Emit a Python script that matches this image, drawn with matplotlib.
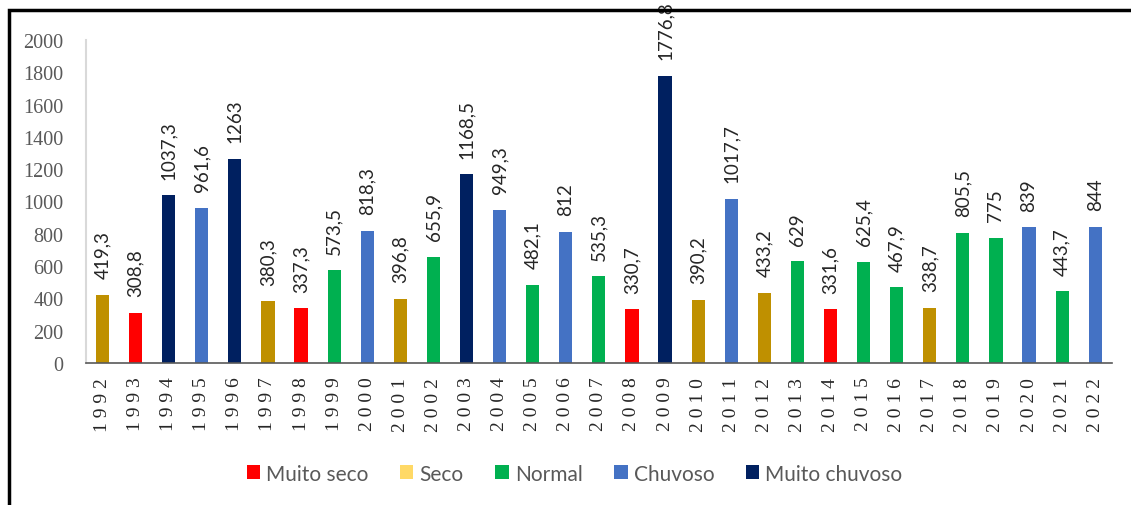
import matplotlib.pyplot as plt
from matplotlib.patches import Patch, Rectangle

# dados
anos = list(range(1992, 2023))
precip = [419.3, 308.8, 1037.3, 961.6, 1263, 380.3, 337.3, 573.5, 818.3, 396.8,
          655.9, 1168.5, 949.3, 482.1, 812, 535.3, 330.7, 1776.8, 390.2, 1017.7,
          433.2, 629, 331.6, 625.4, 467.9, 338.7, 805.5, 775, 839, 443.7, 844]
classe = ['Seco', 'Muito seco', 'Muito chuvoso', 'Chuvoso', 'Muito chuvoso', 'Seco',
          'Muito seco', 'Normal', 'Chuvoso', 'Seco', 'Normal', 'Muito chuvoso',
          'Chuvoso', 'Normal', 'Chuvoso', 'Normal', 'Muito seco', 'Muito chuvoso',
          'Seco', 'Chuvoso', 'Seco', 'Normal', 'Muito seco', 'Normal', 'Normal',
          'Seco', 'Normal', 'Normal', 'Chuvoso', 'Normal', 'Chuvoso']
categorias = ['Muito seco', 'Seco', 'Normal', 'Chuvoso', 'Muito chuvoso']

cores_barra = {'Muito seco': '#FF0000', 'Seco': '#BF9000', 'Normal': '#00B050',
               'Chuvoso': '#4472C4', 'Muito chuvoso': '#002060'}
cores_legenda = dict(cores_barra, Seco='#FFD966')


def rotulo(v):
    if float(v).is_integer():
        return str(int(v))
    return str(v).replace('.', ',')


fig = plt.figure(figsize=(11.31, 5.06), dpi=100)
ax = fig.add_axes([0.076, 0.281, 0.907, 0.638])

x = list(range(len(anos)))
ax.bar(x, precip, width=0.4, color=[cores_barra[c] for c in classe])

for xi, v in zip(x, precip):
    ax.annotate(rotulo(v), (xi, v), xytext=(0, 12), textcoords='offset points',
                rotation=90, ha='center', va='bottom', fontsize=13.5,
                family='Lato', color='#262626')

ax.set_xlim(-0.5, len(anos) - 0.5)
ax.set_ylim(0, 2000)
ax.set_yticks(range(0, 2001, 200))
ax.set_xticks(x)
ax.set_xticklabels([' '.join(str(a)) for a in anos], rotation=90,
                   family='Liberation Serif', fontsize=14, color='#262626')
ax.tick_params(axis='x', length=0, pad=10)
ax.tick_params(axis='y', length=0, pad=16, labelsize=14.5, labelcolor='#595959')
for t in ax.get_yticklabels():
    t.set_family('Liberation Serif')

for s in ['top', 'right']:
    ax.spines[s].set_visible(False)
ax.spines['left'].set_color('#D9D9D9')
ax.spines['left'].set_linewidth(1.5)
ax.spines['bottom'].set_color('#595959')
ax.spines['bottom'].set_linewidth(1.2)

handles = [Patch(facecolor=cores_legenda[c], label=c) for c in categorias]
fig.legend(handles=handles, loc='center', bbox_to_anchor=(0.508, 0.062), ncol=5,
           frameon=False, handlelength=0.65, handleheight=0.65, handletextpad=0.3,
           columnspacing=1.5, prop={'family': 'Lato', 'size': 15},
           labelcolor='#595959')

# moldura
fig.patches.append(Rectangle((9 / 1131, -0.1), 1.2, (495 / 506) + 0.1,
                             transform=fig.transFigure, fill=False,
                             edgecolor='black', linewidth=2.5))

fig.savefig('out.png', dpi=100)
